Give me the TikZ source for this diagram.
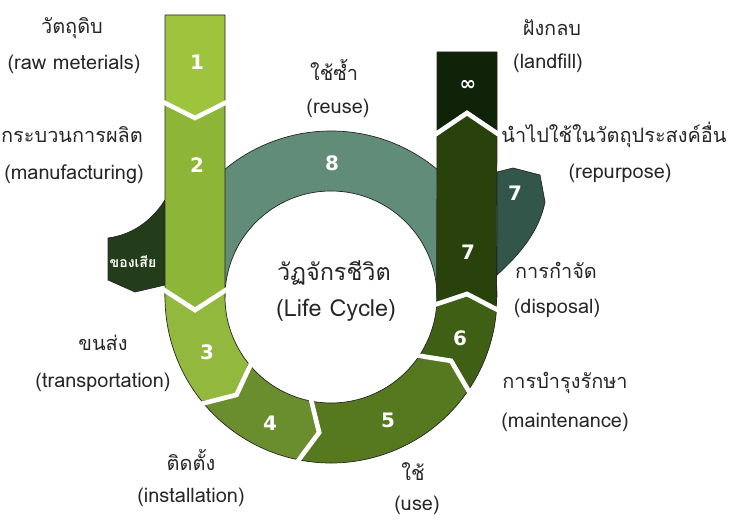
\documentclass[tikz,border=0pt]{standalone}
\usepackage{fontspec}
\setmainfont[Script=Thai]{Loma}
\newfontfamily\numfont{DejaVu Sans}
\usetikzlibrary{calc}
\tikzstyle{caption}=[text=black!85, inner sep=1pt, font=\fontsize{17}{17}\selectfont]
\tikzstyle{num}=[text=white, font=\numfont\bfseries\fontsize{17}{17}\selectfont]
\tikzstyle{piece}=[draw=black!85, line width=0.6pt]
\tikzstyle{gap}=[draw=white, line width=4pt]
\definecolor{mylime}{RGB}{157,196,60}
\definecolor{mygrass}{RGB}{141,181,55}
\definecolor{mymeadow}{RGB}{146,184,62}
\definecolor{myolive}{RGB}{106,141,45}
\definecolor{mymoss}{RGB}{86,121,31}
\definecolor{myforest}{RGB}{62,95,20}
\definecolor{mypine}{RGB}{41,66,12}
\definecolor{mynight}{RGB}{15,35,8}
\definecolor{myteal}{RGB}{96,140,120}
\definecolor{mydeepteal}{RGB}{50,86,74}
\definecolor{mywaste}{RGB}{35,60,25}

\begin{document}
\begin{tikzpicture}[x=0.03cm, y=0.03cm]
\useasboundingbox (0,0) rectangle (729,520);
\begin{scope}[shift={(331,223)}]
% reuse ring behind the two columns
\draw [piece, fill=myteal] (0:166) arc [start angle=0, end angle=180, radius=166]
  -- (180:106) arc [start angle=180, end angle=0, radius=106] -- cycle;
% side tabs
\draw [piece, fill=mywaste] (-166,97) .. controls (-180,75) and (-200,62) .. (-223,59)
  -- (-223,17) -- (-196,5) -- (-166,12) -- cycle;
\draw [piece, fill=mydeepteal] (166,125) -- (182,129) -- (209,122) -- (214,95)
  .. controls (208,65) and (188,42) .. (166,22) -- cycle;
% stages
\draw [piece, fill=mylime] (-166,282) -- (-106,282) -- (-106,194) -- (-136,179) -- (-166,194) -- cycle;
\draw [piece, fill=mygrass] (-166,194) -- (-136,179) -- (-106,194) -- (-106,7) -- (-136,-13) -- (-166,7) -- cycle;
\draw [piece, fill=mymeadow] (-166,7) -- (180:166) arc [start angle=180, end angle=219, radius=166]
  -- (226:136) -- (219:106) arc [start angle=219, end angle=180, radius=106] -- (-106,7) -- (-136,-13) -- cycle;
\draw [piece, fill=myolive] (219:166) arc [start angle=219, end angle=258, radius=166]
  -- (265:136) -- (258:106) arc [start angle=258, end angle=219, radius=106] -- (226:136) -- cycle;
\draw [piece, fill=mymoss] (258:166) arc [start angle=258, end angle=325, radius=166]
  -- (332:136) -- (325:106) arc [start angle=325, end angle=258, radius=106] -- (265:136) -- cycle;
\draw [piece, fill=myforest] (325:166) arc [start angle=325, end angle=355, radius=166]
  -- (136,3) -- (355:106) arc [start angle=355, end angle=325, radius=106] -- (332:136) -- cycle;
\draw [piece, fill=mypine] (355:106) -- (136,3) -- (355:166) -- (166,164) -- (136,184) -- (106,164) -- cycle;
\draw [piece, fill=mynight] (106,164) -- (136,184) -- (166,164) -- (166,245) -- (106,245) -- cycle;
% white cuts between stages
\draw [gap] (-170,196) -- (-136,179) -- (-102,196);
\draw [gap] (-170,9) -- (-136,-13) -- (-102,9);
\draw [gap] (219:171) -- (226:136) -- (219:101);
\draw [gap] (258:171) -- (265:136) -- (258:101);
\draw [gap] (325:171) -- (332:136) -- (325:101);
\draw [gap] (355:171) -- (136,3) -- (355:101);
\draw [gap] (102,161) -- (136,184) -- (170,161);
\end{scope}

% stage numbers
\draw (197,458) node [num] (n1) {1};
\draw (197,355) node [num] (n2) {2};
\draw (207,168) node [num] (n3) {3};
\draw (270,97) node [num] (n4) {4};
\draw (388,100) node [num] (n5) {5};
\draw (460,182) node [num] (n6) {6};
\draw (468,268) node [num] (n7) {7};
\draw (515,327) node [num] (n7b) {7};
\draw (332,357) node [num] (n8) {8};
\draw (468,435) node [num] (ninf) {∞};
\draw (133,258) node [text=white, font=\bfseries\fontsize{12}{12}\selectfont] (waste) {ของเสีย};

% captions
\draw (72,492) node [caption] (raw) {วัตถุดิบ};
\draw (74,456) node [caption] (rawen) {(raw meterials)};
\draw (72,385) node [caption] (make) {กระบวนการผลิต};
\draw (74,346) node [caption] (makeen) {(manufacturing)};
\draw (103,177) node [caption] (ship) {ขนส่ง};
\draw (103,138) node [caption] (shipen) {(transportation)};
\draw (191,60) node [caption] (inst) {ติดตั้ง};
\draw (191,23) node [caption] (insten) {(installation)};
\draw (413,48) node [caption] (use) {ใช้};
\draw (417,15) node [caption] (useen) {(use)};
\draw (565,137) node [caption] (care) {การบำรุงรักษา};
\draw (565,98) node [caption] (careen) {(maintenance)};
\draw (556,250) node [caption] (disp) {การกำจัด};
\draw (557,212) node [caption] (dispen) {(disposal)};
\draw (614,385) node [caption] (repu) {นำไปใช้ในวัตถุประสงค์อื่น};
\draw (620,347) node [caption] (repuen) {(repurpose)};
\draw (552,492) node [caption] (fill) {ฝังกลบ};
\draw (548,457) node [caption] (fillen) {(landfill)};
\draw (334,450) node [caption] (reuse) {ใช้ซ้ำ};
\draw (338,412) node [caption] (reuseen) {(reuse)};
\draw (334,247) node [caption, font=\fontsize{20}{20}\selectfont] (cycle) {วัฏจักรชีวิต};
\draw (336,210) node [caption, font=\fontsize{20}{20}\selectfont] (cycleen) {(Life Cycle)};
\end{tikzpicture}
\end{document}
